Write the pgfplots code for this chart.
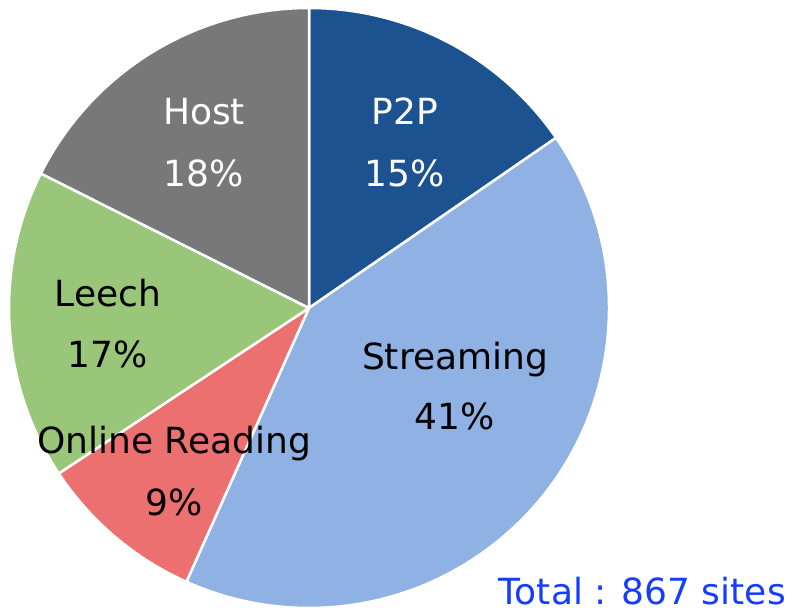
\documentclass[border=0pt]{standalone}
\usepackage{fontspec}
\setmainfont{DejaVu Sans}
\usepackage{pgfplots}
\usepackage{pgfplotstable}
\pgfplotsset{compat=1.18}
\definecolor{cP2P}{RGB}{29,82,145}
\definecolor{cStream}{RGB}{144,177,227}
\definecolor{cOnline}{RGB}{237,112,112}
\definecolor{cLeech}{RGB}{153,198,120}
\definecolor{cHost}{RGB}{120,120,120}
\definecolor{totalblue}{RGB}{22,60,255}
\tikzset{lab/.style={anchor=base,inner sep=0pt,font=\fontsize{36bp}{42bp}\selectfont}}

% share of the 867 sites, clockwise from 12 o'clock
\pgfplotstableread{
name      pct   col
P2P       15.4  cP2P
Streaming 41.3  cStream
Online    9.0   cOnline
Leech     16.7  cLeech
Host      17.6  cHost
}\piedata

\begin{document}
\begin{tikzpicture}
\begin{axis}[x=1bp,y=1bp,xmin=0,xmax=792,ymin=0,ymax=613,
  hide axis,clip=false]
\def\startang{90}
\pgfplotsforeachungrouped \i in {0,...,4}{%
  \pgfplotstablegetelem{\i}{pct}\of\piedata \let\p\pgfplotsretval
  \pgfplotstablegetelem{\i}{col}\of\piedata \let\c\pgfplotsretval
  \pgfmathsetmacro\endang{\startang-3.6*\p}%
  \edef\temp{\noexpand\fill[\c,draw=white,line width=2.5bp,line join=round]
    (axis cs:309,305) -- ++(\startang:300bp)
    arc[start angle=\startang,end angle=\endang,radius=300bp] -- cycle;}%
  \temp
  \global\let\startang\endang
}
\node[lab,text=white] at (axis cs:405,488) {P2P};
\node[lab,text=white] at (axis cs:204,488) {Host};
\node[lab,text=white] at (axis cs:405,426) {15\%};
\node[lab,text=white] at (axis cs:204,426) {18\%};
\node[lab] at (axis cs:108,306) {Leech};
\node[lab] at (axis cs:108,245) {17\%};
\node[lab] at (axis cs:455,243) {Streaming};
\node[lab] at (axis cs:455,183) {41\%};
\node[lab] at (axis cs:174,159) {Online Reading};
\node[lab] at (axis cs:174,97) {9\%};
\node[lab,anchor=base east,text=totalblue] at (axis cs:786,8) {Total : 867 sites};
\end{axis}
\pgfresetboundingbox
\path (0,0) rectangle (792bp,613bp);
\end{tikzpicture}
\end{document}
